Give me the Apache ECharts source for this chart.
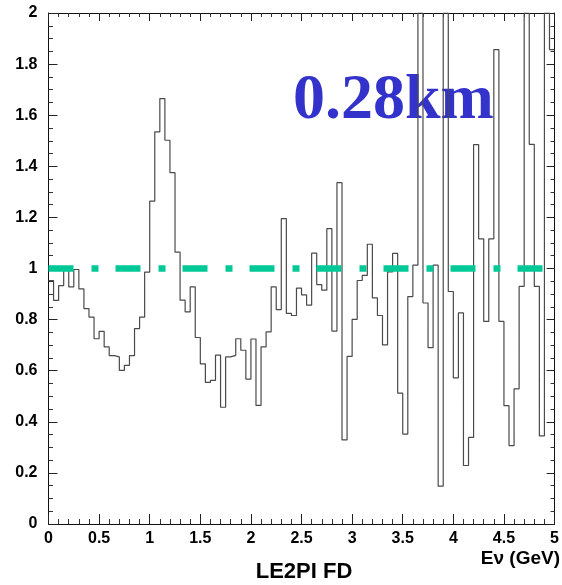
<!DOCTYPE html>
<html>
<head>
<meta charset="utf-8">
<script src="https://cdn.jsdelivr.net/npm/echarts@6/dist/echarts.min.js"></script>
<style>
  html, body { margin: 0; padding: 0; background: #ffffff; }
  #chart { width: 562px; height: 585px; }
</style>
</head>
<body>
<div id="chart"></div>
<script>
// Energy binning of the histogram (GeV)
const binWidth = 0.05;
const energyMax = 5;

// Far/near ratio per 0.05 GeV bin, 0 -> 5 GeV (bins at 2.0 run off the top of the frame)
const ratio = [
  0.953, 0.875, 0.933, 0.996, 0.928, 0.996, 0.920, 0.843, 0.810, 0.725,
  0.754, 0.693, 0.659, 0.654, 0.601, 0.621, 0.659, 0.765, 0.810, 0.986,
  1.264, 1.535, 1.665, 1.502, 1.375, 1.064, 0.876, 0.830, 0.928, 0.730,
  0.627, 0.554, 0.562, 0.661, 0.457, 0.654, 0.660, 0.725, 0.680, 0.567,
  0.724, 0.464, 0.693, 0.752, 0.928, 0.839, 1.195, 0.824, 0.816, 0.923,
  0.897, 0.857, 1.060, 0.937, 0.915, 1.156, 0.755, 1.336, 0.329, 0.656,
  0.801, 0.953, 0.973, 1.095, 0.885, 0.816, 0.701, 0.987, 1.059, 0.512,
  0.352, 0.890, 1.013, 2.000, 0.865, 0.690, 1.013, 0.148, 2.000, 0.910,
  0.572, 0.826, 0.229, 0.339, 1.485, 1.116, 0.793, 1.116, 1.857, 0.793,
  0.463, 0.307, 0.529, 0.930, 2.000, 1.486, 0.930, 0.345, 2.000, 1.857
];

// Unit reference level drawn across the full energy range
const referenceLevel = 1;

// Axis ranges and tick spacing
const xRange = [0, 5];
const xStep = 0.5;
const yRange = [0, 2];
const yStep = 0.2;

// Texts
const baselineText = '0.28km';
const xTitle = 'E\u03bd (GeV)';
const plotTitle = 'LE2PI FD';

// Histogram outline: one point per bin's left edge, plus the closing right edge
const histPoints = ratio.map((v, i) => [+(i * binWidth).toFixed(2), v]);
histPoints.push([energyMax, ratio[ratio.length - 1]]);

const labelFont = { fontFamily: '"Liberation Sans", Arial, sans-serif', fontWeight: 'bold', fontSize: 16, color: '#000' };
const axisLineStyle = { color: '#111', width: 1 };

function xAxisDef(pos, showLabels, major, minor) {
  return {
    type: 'value', position: pos, min: xRange[0], max: xRange[1], interval: xStep,
    axisLine: { show: true, onZero: false, lineStyle: axisLineStyle },
    axisTick: { show: true, inside: true, length: major, lineStyle: { color: '#222', width: 1 } },
    minorTick: { show: true, splitNumber: 5, length: minor, lineStyle: { color: '#333', width: 1 } },
    axisLabel: Object.assign({ show: showLabels, margin: 7 }, labelFont),
    splitLine: { show: false }, minorSplitLine: { show: false }
  };
}
function yAxisDef(pos, showLabels, major, minor) {
  return {
    type: 'value', position: pos, min: yRange[0], max: yRange[1], interval: yStep,
    axisLine: { show: true, onZero: false, lineStyle: axisLineStyle },
    axisTick: { show: true, inside: true, length: major, lineStyle: { color: '#222', width: 1 } },
    minorTick: { show: true, splitNumber: 4, length: minor, lineStyle: { color: '#333', width: 1 } },
    axisLabel: Object.assign({ show: showLabels, margin: 11 }, labelFont),
    splitLine: { show: false }, minorSplitLine: { show: false }
  };
}

const chart = echarts.init(document.getElementById('chart'), null, { renderer: 'canvas' });
chart.setOption({
  animation: false,
  backgroundColor: '#ffffff',
  grid: { left: 48.5, right: 0.5, top: 13, bottom: 61, containLabel: false },
  xAxis: [xAxisDef('bottom', true, 10, 5), xAxisDef('top', false, 8, 4)],
  yAxis: [yAxisDef('left', true, 9, 4.5), yAxisDef('right', false, 8, 4)],
  graphic: [
    {
      type: 'text', x: 293, y: 133, z: 1,
      style: {
        text: baselineText, fill: '#3333cc',
        font: 'bold 64px "Liberation Serif", "Times New Roman", serif',
        textAlign: 'left', align: 'left', textVerticalAlign: 'bottom', verticalAlign: 'bottom'
      }
    },
    {
      type: 'text', x: 560, y: 559,
      style: {
        text: xTitle, fill: '#000',
        font: 'bold 19px "Liberation Sans", Arial, sans-serif',
        textAlign: 'right', align: 'right', textVerticalAlign: 'middle', verticalAlign: 'middle'
      }
    },
    {
      type: 'text', x: 304, y: 572,
      style: {
        text: plotTitle, fill: '#000',
        font: 'bold 22px "Liberation Sans", Arial, sans-serif',
        textAlign: 'center', align: 'center', textVerticalAlign: 'middle', verticalAlign: 'middle'
      }
    }
  ],
  series: [
    {
      name: 'ratio', type: 'line', step: 'end', data: histPoints,
      xAxisIndex: 0, yAxisIndex: 0, symbol: 'none', clip: true, z: 3,
      lineStyle: { color: '#4a4a4a', width: 1.2 }
    },
    {
      name: 'reference', type: 'line', data: [[xRange[0], referenceLevel], [xRange[1], referenceLevel]],
      xAxisIndex: 0, yAxisIndex: 0, symbol: 'none', z: 4,
      lineStyle: { color: '#00c896', width: 6.5, type: [25, 18, 7, 17], cap: 'butt' }
    }
  ]
});
</script>
</body>
</html>
